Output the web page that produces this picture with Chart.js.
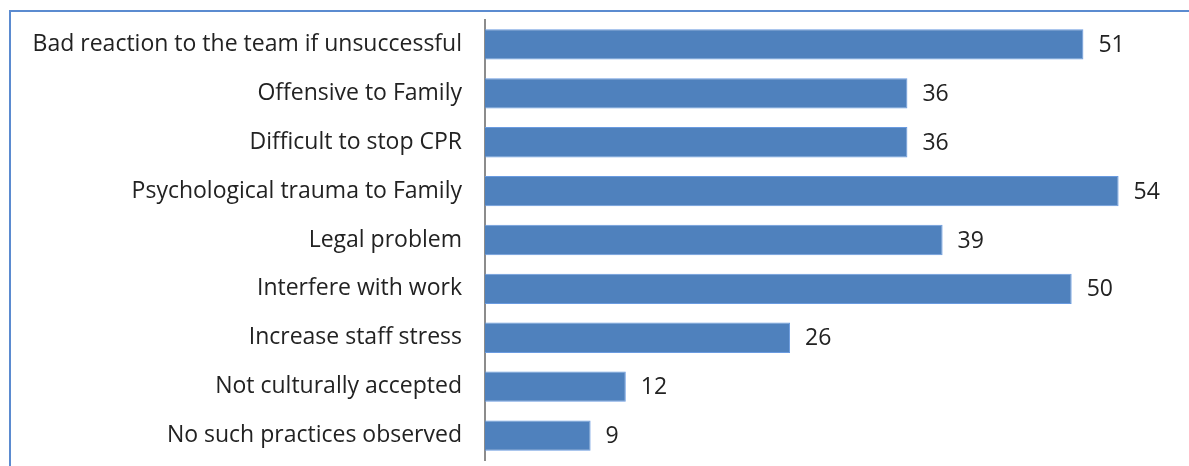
<!DOCTYPE html>
<html>
<head>
<meta charset="utf-8">
<script src="https://cdn.jsdelivr.net/npm/chart.js@4"></script>
<style>
  html, body { margin: 0; padding: 0; background: #fff; overflow: hidden; }
  #wrap { position: relative; width: 1189px; height: 466px; overflow: hidden; }
  #frame { position: absolute; left: 9px; top: 10px; right: 0; bottom: 0; border-top: 2px solid #5b8bd0; border-left: 2px solid #5b8bd0; }
  canvas { position: absolute; left: 0; top: 0; }
</style>
</head>
<body>
<div id="wrap">
  <div id="frame"></div>
  <canvas id="chart" width="1189" height="466"></canvas>
</div>
<script>
const categories = [
  'Bad reaction to the team if unsuccessful',
  'Offensive to Family',
  'Difficult to stop CPR',
  'Psychological trauma to Family',
  'Legal problem',
  'Interfere with work',
  'Increase staff stress',
  'Not culturally accepted',
  'No such practices observed'
];
const counts = [51, 36, 36, 54, 39, 50, 26, 12, 9];

const FONT = '"Open Sans", "Liberation Sans", sans-serif';

// value labels at the end of each bar
const valueLabels = {
  id: 'valueLabels',
  afterDatasetsDraw(chart) {
    const ctx = chart.ctx;
    const meta = chart.getDatasetMeta(0);
    ctx.save();
    ctx.font = '23px ' + FONT;
    ctx.fillStyle = '#222222';
    ctx.textAlign = 'left';
    ctx.textBaseline = 'middle';
    meta.data.forEach((bar, i) => {
      ctx.fillText(String(counts[i]), bar.x + 15, bar.y + 1);
    });
    ctx.restore();
  }
};

new Chart(document.getElementById('chart').getContext('2d'), {
  type: 'bar',
  data: {
    labels: categories,
    datasets: [{
      data: counts,
      backgroundColor: '#4f81bd',
      borderColor: '#6a9be0',
      borderWidth: 1,
      categoryPercentage: 0.62,
      barPercentage: 1
    }]
  },
  options: {
    indexAxis: 'y',
    responsive: false,
    animation: false,
    layout: { padding: { top: 20, bottom: 6, left: 0, right: 0 } },
    plugins: { legend: { display: false }, tooltip: { enabled: false } },
    scales: {
      x: { display: false, min: 0, max: 60 },
      y: {
        afterFit(scale) {
          scale.width = 485;
          scale.paddingTop = 0;
          scale.paddingBottom = 0;
        },
        grid: { display: false, drawTicks: false },
        border: { display: true, color: '#8c8c8c', width: 2 },
        ticks: { color: '#222222', font: { family: FONT, size: 23 }, padding: 23, autoSkip: false }
      }
    }
  },
  plugins: [valueLabels]
});
</script>
</body>
</html>
